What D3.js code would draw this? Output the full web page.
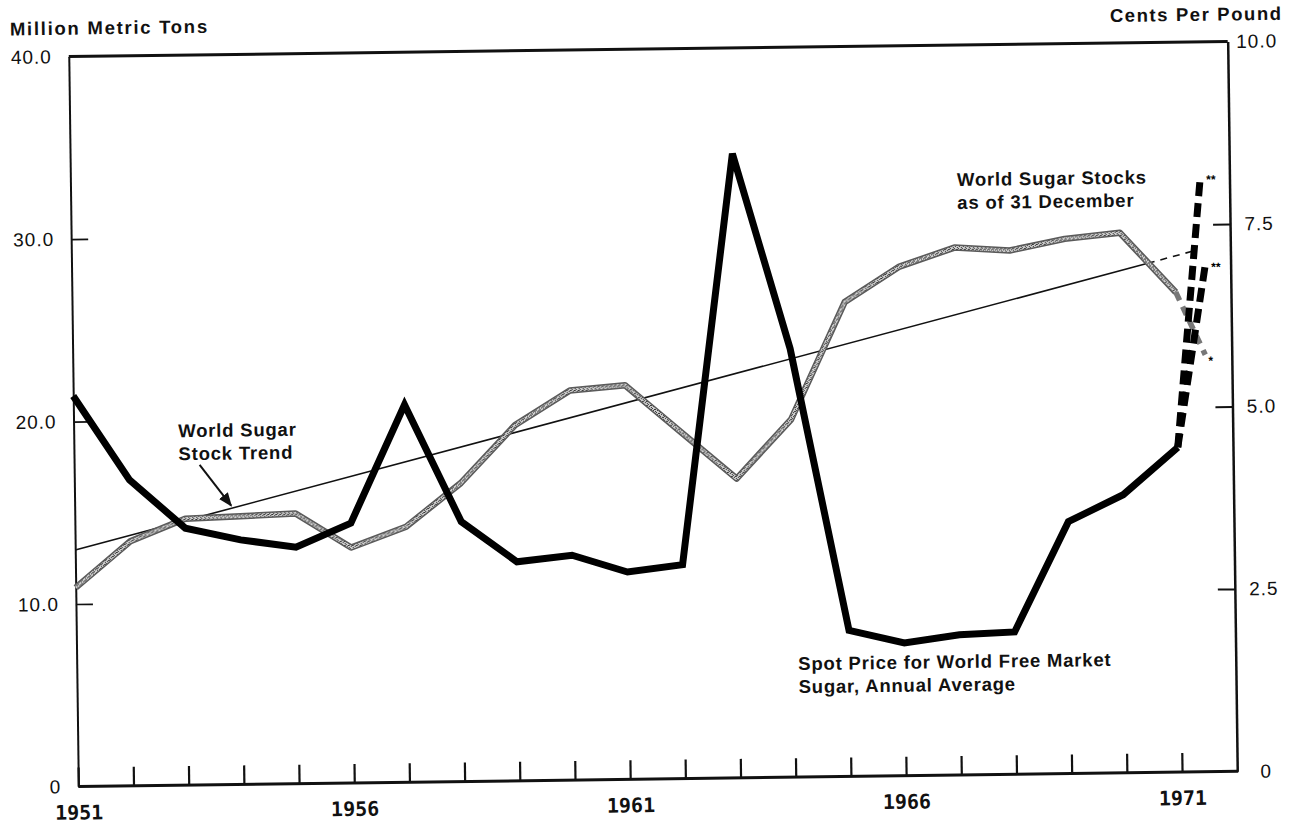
<!DOCTYPE html>
<html>
<head>
<meta charset="utf-8">
<script src="https://cdn.jsdelivr.net/npm/d3@7"></script>
<style>
  body { margin: 0; background: #fff; }
  svg { display: block; }
  .ylab text { font-family: "Liberation Sans", Arial, sans-serif; font-size: 19px; letter-spacing: 1px; fill: #111; }
  .xlab text { font-family: "DejaVu Sans Mono", monospace; font-weight: bold; font-size: 20px; fill: #111; }
  .note { font-family: "Liberation Sans", Arial, sans-serif; font-weight: bold; font-size: 18.5px; letter-spacing: 0.8px; fill: #111; }
</style>
</head>
<body>
<svg width="1303" height="825"></svg>
<script>
const width = 1303
const height = 825

// annual values
const years = [1951, 1952, 1953, 1954, 1955, 1956, 1957, 1958, 1959, 1960,
    1961, 1962, 1963, 1964, 1965, 1966, 1967, 1968, 1969, 1970, 1971]
const priceCents = [5.35, 4.19, 3.52, 3.35, 3.24, 3.56, 5.17, 3.56, 3.0, 3.08,
    2.84, 2.93, 8.55, 5.87, 2.0, 1.82, 1.92, 1.95, 3.45, 3.81, 4.45]
const stocksMMT = [10.9, 13.4, 14.6, 14.7, 14.8, 12.9, 14.0, 16.35, 19.5, 21.35,
    21.6, 19.0, 16.4, 19.6, 26.0, 27.9, 28.9, 28.7, 29.3, 29.6, 26.3]

// trend line (solid part + dashed projection)
const trendYears = [1951, 1970.5]
const trendValues = [12.96, 27.9]
const trendProjYears = [1970.5, 1971.4]
const trendProjValues = [27.9, 28.6]

// 1972 projections (dashed, marked with asterisks)
const priceProjYears = [1971.47, 1971.54]
const priceProjValues = [8.14, 6.94]
const stockProjYears = [1971.52]
const stockProjValues = [22.85]

const xTicks = years.slice(1)
const xLabels = [1951, 1956, 1961, 1966, 1971]
const leftTicks = [0, 10, 20, 30, 40]
const rightTicks = [0, 2.5, 5, 7.5, 10]

const m = { left: 73.5, right: 1232.5, top: 49, bottom: 779 }

const x = d3.scaleLinear().domain([1951, 1972]).range([m.left, m.right])
const yL = d3.scaleLinear().domain([0, 40]).range([m.bottom, m.top])
const yR = d3.scaleLinear().domain([0, 10]).range([m.bottom, m.top])

const svg = d3.select('svg')
    .attr("viewBox", [0, 0, width, height])

// stipple used for the stock line
const defs = svg.append("defs")
const pat = defs.append("pattern")
    .attr("id", "stip")
    .attr("width", 4).attr("height", 4)
    .attr("patternUnits", "userSpaceOnUse")
pat.append("rect").attr("width", 4).attr("height", 4).attr("fill", "#cfcfcf")
;[[0, 0], [2, 1], [1, 2], [3, 3], [3, 1]].forEach(p => {
    pat.append("rect").attr("x", p[0]).attr("y", p[1])
        .attr("width", 1).attr("height", 1).attr("fill", "#333")
})

// the scan is slightly tilted
const g = svg.append("g")
    .attr("transform", "rotate(-0.75 653 414)")

// frame
g.append("line")
    .attr("x1", m.left).attr("x2", m.right)
    .attr("y1", m.top).attr("y2", m.top)
    .attr("stroke", "#111").attr("stroke-width", 3)
g.append("line")
    .attr("x1", m.left).attr("x2", m.right + 1)
    .attr("y1", m.bottom).attr("y2", m.bottom)
    .attr("stroke", "#111").attr("stroke-width", 3)

// x axis
const xAxis = g.append("g")
    .attr("class", "xlab")
    .attr("transform", `translate(0,${m.bottom})`)
    .call(d3.axisBottom(x)
        .tickValues(xTicks.concat([1951]))
        .tickSizeInner(-19)
        .tickSizeOuter(0)
        .tickPadding(0)
        .tickFormat(d => xLabels.includes(d) ? d : ""))
xAxis.select(".domain").remove()
xAxis.selectAll("line").attr("stroke", "#111").attr("stroke-width", 2.2)
xAxis.selectAll("text").attr("y", 33).attr("dy", 0)

// left axis
const lAxis = g.append("g")
    .attr("class", "ylab")
    .attr("transform", `translate(${m.left},0)`)
    .call(d3.axisLeft(yL)
        .tickValues(leftTicks)
        .tickSizeInner(-17)
        .tickSizeOuter(0)
        .tickPadding(17)
        .tickFormat(d => d === 0 ? "0" : d3.format(".1f")(d)))
lAxis.select(".domain").attr("stroke", "#111").attr("stroke-width", 2)
lAxis.selectAll("line").attr("stroke", "#111").attr("stroke-width", 1.6)
lAxis.selectAll(".tick").filter(d => d === 0).select("line").remove()
lAxis.selectAll(".tick").filter(d => d === 40).select("line").remove()

// right axis
const rAxis = g.append("g")
    .attr("class", "ylab")
    .attr("transform", `translate(${m.right},0)`)
    .call(d3.axisRight(yR)
        .tickValues(rightTicks)
        .tickSizeInner(-17)
        .tickSizeOuter(0)
        .tickFormat(d => d === 0 ? "0" : d3.format(".1f")(d)))
rAxis.select(".domain").attr("stroke", "#111").attr("stroke-width", 2.5)
rAxis.selectAll("line").attr("stroke", "#111").attr("stroke-width", 2)
rAxis.selectAll("text").attr("x", 29).attr("text-anchor", "middle")
rAxis.selectAll(".tick").filter(d => d === 0 || d === 10).select("line").remove()

// trend
const trendLine = d3.line().x(d => x(d[0])).y(d => yL(d[1]))
g.append("path")
    .attr("d", trendLine(d3.zip(trendYears, trendValues)))
    .attr("fill", "none").attr("stroke", "#111").attr("stroke-width", 1.6)
g.append("path")
    .attr("d", trendLine(d3.zip(trendProjYears, trendProjValues)))
    .attr("fill", "none").attr("stroke", "#111").attr("stroke-width", 1.6)
    .attr("stroke-dasharray", "7,6")

// stocks (grey stippled line)
const stockPts = d3.zip(years, stocksMMT)
const stockLine = d3.line().x(d => x(d[0])).y(d => yL(d[1]))
g.append("path")
    .attr("d", stockLine(stockPts))
    .attr("fill", "none").attr("stroke", "#5a5a5a").attr("stroke-width", 6.5)
    .attr("stroke-linejoin", "round")
g.append("path")
    .attr("d", stockLine(stockPts))
    .attr("fill", "none").attr("stroke", "url(#stip)").attr("stroke-width", 3.5)
    .attr("stroke-linejoin", "round")

const lastStock = stockPts[stockPts.length - 1]
d3.zip(stockProjYears, stockProjValues).forEach(p => {
    g.append("path")
        .attr("d", stockLine([lastStock, p]))
        .attr("fill", "none").attr("stroke", "#777").attr("stroke-width", 5.5)
        .attr("stroke-dasharray", "9,7")
    g.append("text")
        .attr("x", x(p[0]) + 3).attr("y", yL(p[1]) + 10)
        .attr("font-family", "Liberation Sans, Arial, sans-serif")
        .attr("font-weight", "bold").attr("font-size", 12)
        .text("*")
})

// spot price
const pricePts = d3.zip(years, priceCents)
const priceLine = d3.line().x(d => x(d[0])).y(d => yR(d[1]))
g.append("path")
    .attr("d", priceLine(pricePts))
    .attr("fill", "none").attr("stroke", "#000").attr("stroke-width", 7)
    .attr("stroke-linejoin", "miter")

const lastPrice = pricePts[pricePts.length - 1]
d3.zip(priceProjYears, priceProjValues).forEach(p => {
    g.append("path")
        .attr("d", priceLine([lastPrice, p]))
        .attr("fill", "none").attr("stroke", "#000").attr("stroke-width", 7)
        .attr("stroke-dasharray", "14,7")
    g.append("text")
        .attr("x", x(p[0]) + 6).attr("y", yR(p[1]) + 6)
        .attr("font-family", "Liberation Sans, Arial, sans-serif")
        .attr("font-weight", "bold").attr("font-size", 12)
        .text("**")
})

// axis titles
g.append("text").attr("class", "note")
    .attr("x", 15).attr("y", 27)
    .attr("textLength", 198).attr("lengthAdjust", "spacing")
    .text("Million Metric Tons")
g.append("text").attr("class", "note")
    .attr("x", 1115).attr("y", 28)
    .attr("textLength", 172).attr("lengthAdjust", "spacing")
    .text("Cents Per Pound")

// annotations
const notes = [
    { x: 178, y: 431, lines: ["World Sugar", "Stock Trend"] },
    { x: 960, y: 190, lines: ["World Sugar Stocks", "as of 31 December"] },
    { x: 795, y: 672, lines: ["Spot Price for World Free Market", "Sugar,  Annual Average"] },
]
notes.forEach(n => {
    const t = g.append("text").attr("class", "note")
    n.lines.forEach((s, i) => {
        t.append("tspan").attr("x", n.x).attr("y", n.y + i * 23).text(s)
    })
})

// arrow to the trend line
defs.append("marker")
    .attr("id", "arr")
    .attr("viewBox", "0 0 10 10")
    .attr("refX", 9).attr("refY", 5)
    .attr("markerWidth", 7).attr("markerHeight", 7)
    .attr("orient", "auto")
    .append("path").attr("d", "M0,1 L10,5 L0,9 Z").attr("fill", "#111")
g.append("line")
    .attr("x1", 199).attr("y1", 459)
    .attr("x2", 230).attr("y2", 500)
    .attr("stroke", "#111").attr("stroke-width", 2)
    .attr("marker-end", "url(#arr)")
</script>
</body>
</html>
